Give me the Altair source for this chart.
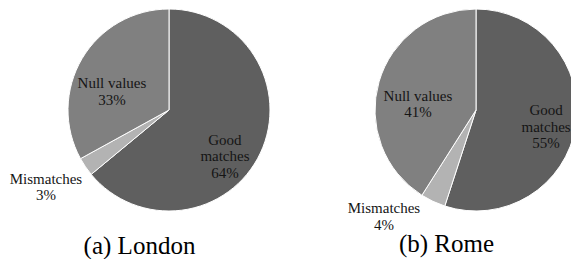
import altair as alt
import pandas as pd

# ---- data ----
categories = ["Good matches", "Mismatches", "Null values"]
label_names = ["Good\nmatches", "Mismatches", "Null values"]
cities = ["London", "Rome"]
captions = ["(a) London", "(b) Rome"]
london_pct = [64, 3, 33]
rome_pct = [55, 4, 41]

# ---- styling ----
colors = ["#5f5f5f", "#b3b3b3", "#808080"]
SERIF = "Liberation Serif"
PIE_R = 101
W, H = 563, 250
CENTER_Y = 102

rows = []
for city, values in zip(cities, [london_pct, rome_pct]):
    running = 0
    for cat, name, v in zip(categories, label_names, values):
        start, end = running, running + v
        running = end
        rows.append({"city": city, "category": cat, "value": v, "start": start,
                     "end": end, "mid": (start + end) / 2, "label": f"{name}\n{v}%"})
df = pd.DataFrame(rows)
cap_df = pd.DataFrame({"city": cities, "caption": captions})

x_enc = alt.X("city:N", scale=alt.Scale(type="point", domain=cities, range=[161, 468], padding=0), axis=None)
theta_scale = alt.Scale(domain=[0, 100])

arcs = alt.Chart(df).mark_arc(radius=PIE_R, stroke="white", strokeWidth=1, clip=True).encode(
    x=x_enc,
    y=alt.value(CENTER_Y),
    theta=alt.Theta("start:Q", scale=theta_scale, stack=False),
    theta2="end:Q",
    color=alt.Color("category:N", scale=alt.Scale(domain=categories, range=colors), legend=None),
)

# label placement: (radius, dx, dy) around each slice's mid-angle
placements = {
    "London": {"Good matches": (74, -11.0, -2.0), "Mismatches": (145, -3.1, -13.0), "Null values": (60, -5.4, 4.0)},
    "Rome": {"Good matches": (74, -3.0, -11.5), "Mismatches": (145, -30.3, -33.0), "Null values": (60, -0.4, 2.5)},
}

layers = [arcs]
for city in cities:
    for cat in categories:
        r, dx, dy = placements[city][cat]
        layers.append(
            alt.Chart(df)
            .transform_filter((alt.datum.city == city) & (alt.datum.category == cat))
            .mark_text(radius=r, dx=dx, dy=dy, font=SERIF, fontSize=15, lineBreak="\n",
                       lineHeight=16.5, color="#151515", align="center", baseline="middle")
            .encode(x=x_enc, y=alt.value(CENTER_Y),
                    theta=alt.Theta("mid:Q", scale=theta_scale, stack=False),
                    text="label:N")
        )

# captions below each pie
for city, cap_y in zip(cities, [246.0, 243.5]):
    layers.append(
        alt.Chart(cap_df)
        .transform_filter(alt.datum.city == city)
        .mark_text(font=SERIF, fontSize=25, color="black", align="center",
                   baseline="alphabetic", dx=-29.5)
        .encode(x=x_enc, y=alt.value(cap_y), text="caption:N")
    )

chart = alt.layer(*layers).properties(
    width=W, height=H,
    padding={"left": 0, "top": 0, "right": 0, "bottom": 0},
    background="white",
).configure_view(stroke=None).configure_text(font=SERIF)

chart.save("out.html", embed_options={"renderer": "svg", "actions": False})
